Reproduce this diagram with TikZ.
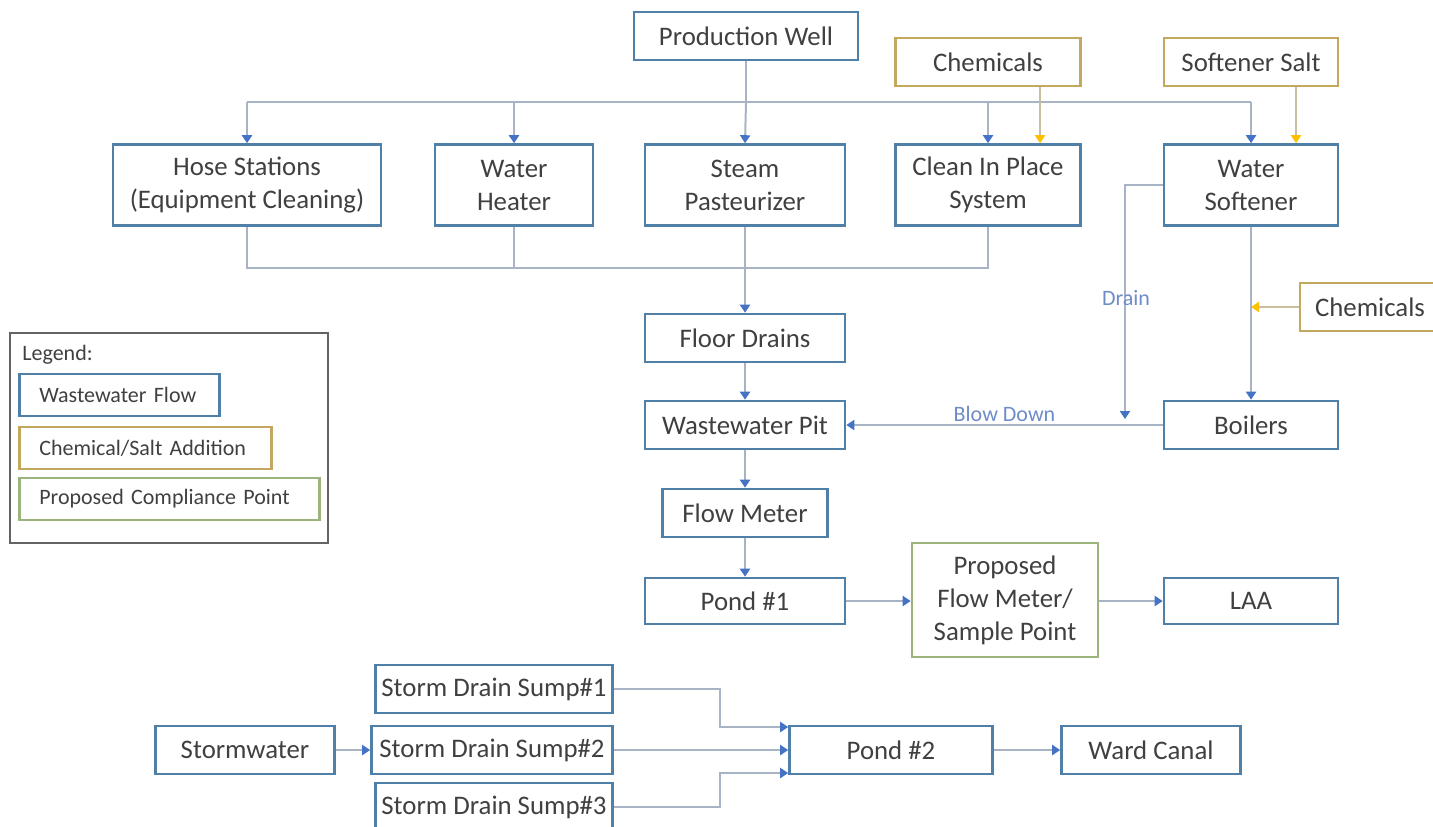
\documentclass[tikz,border=0pt]{standalone}
\usepackage{fontspec}
\setmainfont{Carlito}
\usepackage{xcolor}
\usetikzlibrary{arrows.meta}
\definecolor{boxblue}{RGB}{80,128,168}
\definecolor{lineblue}{RGB}{168,180,198}
\definecolor{tipblue}{RGB}{68,114,196}
\definecolor{chemtan}{RGB}{196,168,96}
\definecolor{chemline}{RGB}{200,190,160}
\definecolor{tipgold}{RGB}{255,192,0}
\definecolor{pointgreen}{RGB}{155,179,124}
\definecolor{legendgray}{RGB}{100,100,100}
\definecolor{txtgray}{RGB}{64,64,64}
\definecolor{labelblue}{RGB}{110,140,200}
\tikzset{
	flowbox/.style={draw=boxblue,line width=1.3pt,fill=white,inner sep=0pt,minimum height=24pt,align=center,text=txtgray,font=\fontsize{13.4}{16.5}\selectfont},
	chembox/.style={flowbox,draw=chemtan},
	pointbox/.style={flowbox,draw=pointgreen},
	flowline/.style={draw=lineblue,line width=1pt},
	flowarrow/.style={flowline,-{Triangle[length=4pt,width=5pt,color=tipblue]}},
	chemarrow/.style={draw=chemline,line width=1pt,-{Triangle[length=4pt,width=5pt,color=tipgold]}},
	keybox/.style={flowbox,anchor=west,align=left,inner xsep=10pt,minimum height=21pt,font=\fontsize{11}{13}\selectfont},
	flowlabel/.style={text=labelblue,font=\fontsize{11}{13}\selectfont}
}
\begin{document}
\begin{tikzpicture}[x=0.5pt,y=-0.5pt]
		\clip (0,0) rectangle (1433,826);
		\fill[white] (0,0) rectangle (1433,826);
		\node[flowbox,minimum width=112pt] (well) at (746,36) {Production Well};
		\node[chembox,minimum width=92.5pt] (chemA) at (988,62) {Chemicals};
		\node[chembox,minimum width=87pt] (salt) at (1251,62) {Softener Salt};
		\node[flowbox,minimum width=134pt,minimum height=40.5pt] (hose) at (247,185) {Hose Stations\\(Equipment Cleaning)};
		\node[flowbox,minimum width=79pt,minimum height=40.5pt] (heater) at (514,185) {Water\\Heater};
		\node[flowbox,minimum width=100pt,minimum height=40.5pt] (steam) at (745,185) {Steam\\Pasteurizer};
		\node[flowbox,minimum width=92.5pt,minimum height=40.5pt] (cip) at (988,185) {Clean In Place\\System};
		\node[flowbox,minimum width=87pt,minimum height=40.5pt] (soft) at (1251,185) {Water\\Softener};
		\node[flowbox,minimum width=100pt] (floor) at (745,338) {Floor Drains};
		\node[flowbox,minimum width=100pt] (pit) at (745,425) {Wastewater Pit};
		\node[flowbox,minimum width=82.5pt] (meter) at (745,513) {Flow Meter};
		\node[flowbox,minimum width=100pt,minimum height=23pt] (pond1) at (745,601) {Pond \#1};
		\node[pointbox,minimum width=93pt,minimum height=57pt] (prop) at (1005,600) {Proposed\\Flow Meter/\\Sample Point};
		\node[flowbox,minimum width=87pt,minimum height=23pt] (laa) at (1251,601) {LAA};
		\node[flowbox,minimum width=87pt] (boil) at (1251,425) {Boilers};
		\node[chembox,minimum width=70pt] (chemB) at (1370,307) {Chemicals};
		\node[flowbox,minimum width=118.5pt] (sump1) at (494,689) {Storm Drain Sump\#1};
		\node[flowbox,minimum width=120.5pt] (sump2) at (492,750) {Storm Drain Sump\#2};
		\node[flowbox,minimum width=118.5pt] (sump3) at (494,807) {Storm Drain Sump\#3};
		\node[flowbox,minimum width=89.5pt] (storm) at (245,750) {Stormwater};
		\node[flowbox,minimum width=101.5pt] (pond2) at (891,750) {Pond \#2};
		\node[flowbox,minimum width=89.5pt] (ward) at (1151,750) {Ward Canal};
		\coordinate (bus) at (746,102);
		\coordinate (sink) at (746,268);
		\coordinate (drainend) at (1125,419);
		\draw[flowline] (well.south) -- (bus);
		\draw[flowline] (hose.north |- bus) -- (soft.north |- bus);
		\draw[flowarrow] (hose.north |- bus) -- (hose.north);
		\draw[flowarrow] (heater.north |- bus) -- (heater.north);
		\draw[flowarrow] (bus) -- (steam.north);
		\draw[flowarrow] (cip.north |- bus) -- (cip.north);
		\draw[flowarrow] (soft.north |- bus) -- (soft.north);
		\draw[chemarrow] (chemA.south -| 1040,0) -- (cip.north -| 1040,0);
		\draw[chemarrow] (salt.south -| 1296,0) -- (soft.north -| 1296,0);
		\draw[flowline] (hose.south) |- (sink) -| (cip.south);
		\draw[flowline] (heater.south) -- (heater.south |- sink);
		\draw[flowarrow] (steam.south) -- (floor.north);
		\draw[flowarrow] (floor.south) -- (pit.north);
		\draw[flowarrow] (pit.south) -- (meter.north);
		\draw[flowarrow] (meter.south) -- (pond1.north);
		\draw[flowarrow] (pond1.east) -- (pond1.east -| prop.west);
		\draw[flowarrow] (prop.east |- laa.west) -- (laa.west);
		\draw[flowarrow] (soft.south) -- (boil.north);
		\draw[chemarrow] (chemB.west) -- (soft.south |- chemB.west);
		\draw[flowarrow] (soft.west) -| (drainend);
		\node[flowlabel] (drainlbl) at (1126,298) {Drain};
		\draw[flowarrow] (boil.west) -- (pit.east) node[flowlabel,midway,above=-2pt] (blowlbl) {Blow Down};
		\draw[flowarrow] (storm.east) -- (sump2.west);
		\draw[flowarrow] (sump1.east) -| (720,727) -- (pond2.west |- 0,727);
		\draw[flowarrow] (sump2.east) -- (pond2.west);
		\draw[flowarrow] (sump3.east) -| (720,773) -- (pond2.west |- 0,773);
		\draw[flowarrow] (pond2.east) -- (ward.west);
		\node[draw=legendgray,line width=1.3pt,minimum width=159pt,minimum height=105pt,inner sep=0pt] (legend) at (169,438) {};
		\node[anchor=west,text=txtgray,font=\fontsize{11}{13}\selectfont,inner sep=0pt] (legendttl) at (22,355) {Legend:};
		\node[keybox,text width=80pt] (keyflow) at (18,395) {\mbox{Wastewater Flow}};
		\node[keybox,draw=chemtan,text width=106pt] (keychem) at (18,448) {\mbox{Chemical/Salt Addition}};
		\node[keybox,draw=pointgreen,text width=130pt] (keypoint) at (18,499) {\mbox{Proposed Compliance Point}};
\end{tikzpicture}
\end{document}
